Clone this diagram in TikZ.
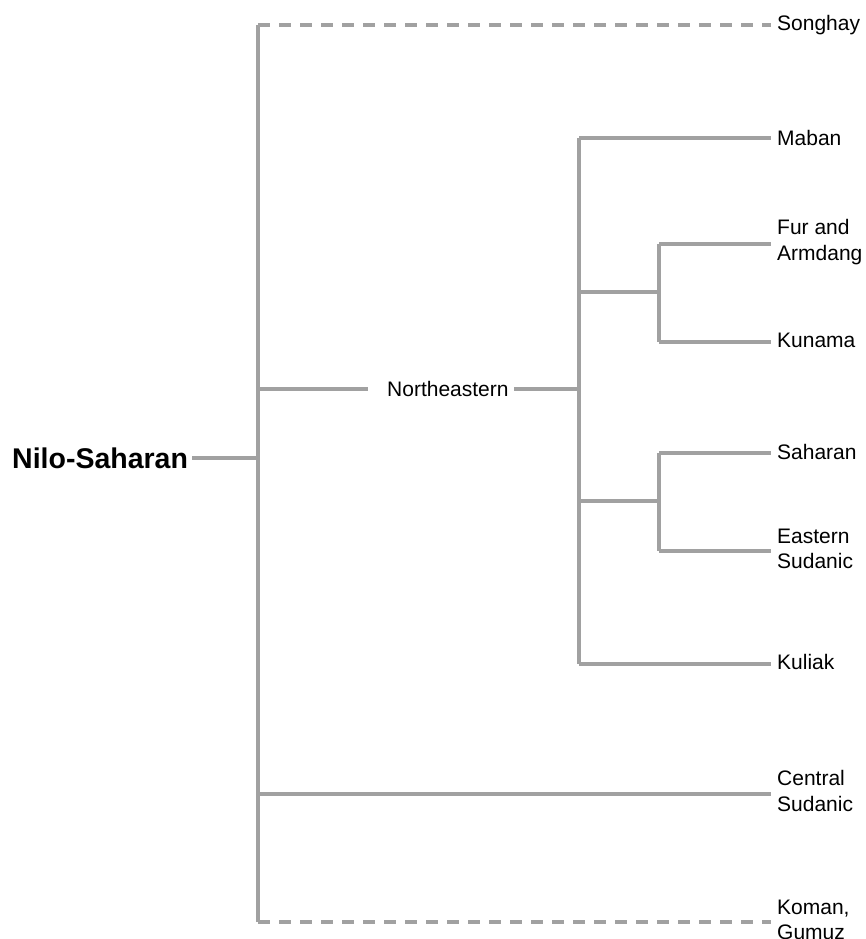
\documentclass[tikz,border=0pt]{standalone}
\usepackage{fontspec}
\setmainfont{Liberation Sans}
\begin{document}
\begin{tikzpicture}[x=1pt,y=-1pt,
  br/.style={draw=black!37, line width=3.2pt},
  dbr/.style={br, dash pattern=on 12pt off 9pt},
  leaf/.style={anchor=west, inner sep=0pt, align=left, font=\fontsize{21}{25.5}\selectfont},
  lbl/.style={inner sep=0pt, font=\fontsize{21}{25.5}\selectfont}]
\useasboundingbox (0,0) rectangle (866,939);
% labels
\node[inner sep=0pt, anchor=west, font=\fontsize{28.5}{31}\bfseries] (root) at (12,458) {Nilo-Saharan};
\node[lbl, anchor=west] (ne) at (387,389) {Northeastern};
\node[leaf] (songhay) at (777,25) {Songhay};
\node[leaf] (maban) at (777,138) {Maban};
\node[leaf] (fur) at (777,242) {Fur and\\Armdang};
\node[leaf] (kunama) at (777,340) {Kunama};
\node[leaf] (saharan) at (777,452) {Saharan};
\node[leaf] (esud) at (777,549) {Eastern\\Sudanic};
\node[leaf] (kuliak) at (777,662) {Kuliak};
\node[leaf] (csud) at (777,791) {Central\\Sudanic};
\node[leaf] (koman) at (777,920) {Koman,\\Gumuz};
% junctions
\coordinate (r0) at (258,458);
\coordinate (rt) at (258,25);
\coordinate (rb) at (258,922);
\coordinate (rne) at (258,389);
\coordinate (rcs) at (258,794);
\coordinate (neL) at (368,389);
\coordinate (neR) at (514,389);
\coordinate (n0) at (579,389);
\coordinate (nt) at (579,138);
\coordinate (nb) at (579,664);
\coordinate (n1) at (579,292);
\coordinate (n2) at (579,501);
\coordinate (a0) at (659,292);
\coordinate (at) at (659,244);
\coordinate (ab) at (659,342);
\coordinate (b0) at (659,501);
\coordinate (bt) at (659,453);
\coordinate (bb) at (659,551);
% ends
\coordinate (eS) at (771,25);
\coordinate (eM) at (771,138);
\coordinate (eF) at (771,244);
\coordinate (eK) at (771,342);
\coordinate (eSa) at (771,453);
\coordinate (eE) at (771,551);
\coordinate (eKu) at (771,664);
\coordinate (eC) at (771,794);
\coordinate (eKo) at (771,922);
% root
\draw[br] (root.east) ++(4,0) -- (r0);
\draw[br] (rt) -- (rb);
\draw[dbr] (rt) -- (eS);
\draw[dbr] (rb) -- (eKo);
\draw[br] (rcs) -- (eC);
\draw[br] (rne) -- (neL);
\draw[br] (neR) -- (n0);
% northeastern
\draw[br] (nt) -- (nb);
\draw[br] (nt) -- (eM);
\draw[br] (nb) -- (eKu);
\draw[br] (n1) -- (a0);
\draw[br] (at) -- (ab);
\draw[br] (at) -- (eF);
\draw[br] (ab) -- (eK);
\draw[br] (n2) -- (b0);
\draw[br] (bt) -- (bb);
\draw[br] (bt) -- (eSa);
\draw[br] (bb) -- (eE);
\end{tikzpicture}
\end{document}
